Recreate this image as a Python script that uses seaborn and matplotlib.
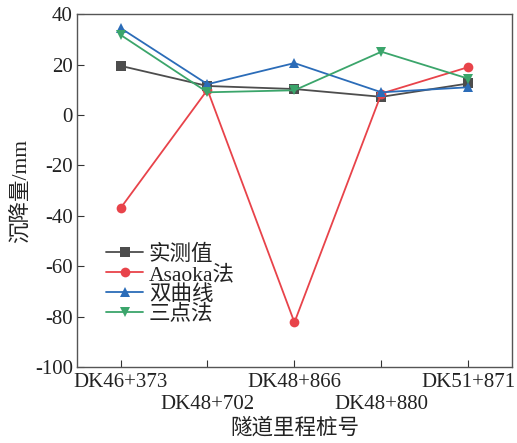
import matplotlib
matplotlib.use("Agg")
import matplotlib.pyplot as plt
import seaborn as sns
import pandas as pd

categories = ["DK46+373", "DK48+702", "DK48+866", "DK48+880", "DK51+871"]
measured = [19.5, 11.5, 10.3, 7.2, 12.5]
asaoka = [-37.0, 10.0, -82.3, 8.5, 19.0]
hyperbola = [34.5, 12.2, 20.6, 9.0, 11.0]
three_point = [31.8, 9.0, 9.8, 25.1, 14.4]
series_names = ["实测值", "Asaoka法", "双曲线", "三点法"]
y_label = "沉降量/mm"
x_label = "隧道里程桩号"

sns.set_style("ticks")
plt.rcParams['font.family'] = ['Liberation Serif', 'Noto Sans CJK SC', 'DejaVu Sans']
plt.rcParams['axes.unicode_minus'] = False

rows = []
for name, vals in zip(series_names, [measured, asaoka, hyperbola, three_point]):
    for c, v in zip(categories, vals):
        rows.append({"cat": c, "val": v, "series": name})
df = pd.DataFrame(rows)

palette = {"实测值": "#4d4d4d", "Asaoka法": "#e8434a", "双曲线": "#2b6cb8", "三点法": "#3ba56b"}
markers = {"实测值": "s", "Asaoka法": "o", "双曲线": "^", "三点法": "v"}

fig = plt.figure(figsize=(5.17, 4.43), dpi=100)
ax = fig.add_axes([0.149, 0.1716, 0.841, 0.7964])
sns.lineplot(data=df, x="cat", y="val", hue="series", style="series",
             palette=palette, markers=markers, dashes=False, ax=ax,
             markersize=7, linewidth=1.3, markeredgewidth=0, sort=False)

ax.set_xlim(-0.5, 4.5)
ax.set_ylim(-100, 40)
ax.set_yticks(range(-100, 41, 20))
ax.set_yticklabels([str(v) for v in range(-100, 41, 20)])
major_idx = [i for i in range(len(categories)) if i % 2 == 0]
minor_idx = [i for i in range(len(categories)) if i % 2 == 1]
ax.set_xticks(major_idx)
ax.set_xticklabels([categories[i] for i in major_idx])
ax.set_xticks(minor_idx, minor=True)
ax.set_xticklabels([categories[i] for i in minor_idx], minor=True)
ax.tick_params(axis="both", which="both", direction="in", length=5, width=0.8,
               labelsize=15, colors="#333333", top=False, right=False)
ax.tick_params(axis="x", which="major", pad=4)
ax.tick_params(axis="x", which="minor", pad=20)
ax.tick_params(axis="y", which="major", pad=3)
for lab in ax.get_xticklabels() + ax.get_xticklabels(minor=True) + ax.get_yticklabels():
    lab.set_color("#222222")
for s in ax.spines.values():
    s.set_color("#555555")
    s.set_linewidth(1.0)
    s.set_visible(True)

ax.set_xlabel(x_label, fontsize=15.5, color="#222222", labelpad=3)
ax.set_ylabel(y_label, fontsize=15.5, color="#222222", labelpad=3)

leg = ax.legend(loc="upper left", bbox_to_anchor=(0.066, 0.347), frameon=False,
                fontsize=15.5, handlelength=1.75, handletextpad=0.25, labelspacing=0.0,
                borderaxespad=0, borderpad=0)
for t in leg.get_texts():
    t.set_color("#222222")

fig.savefig("out.png", dpi=100)
